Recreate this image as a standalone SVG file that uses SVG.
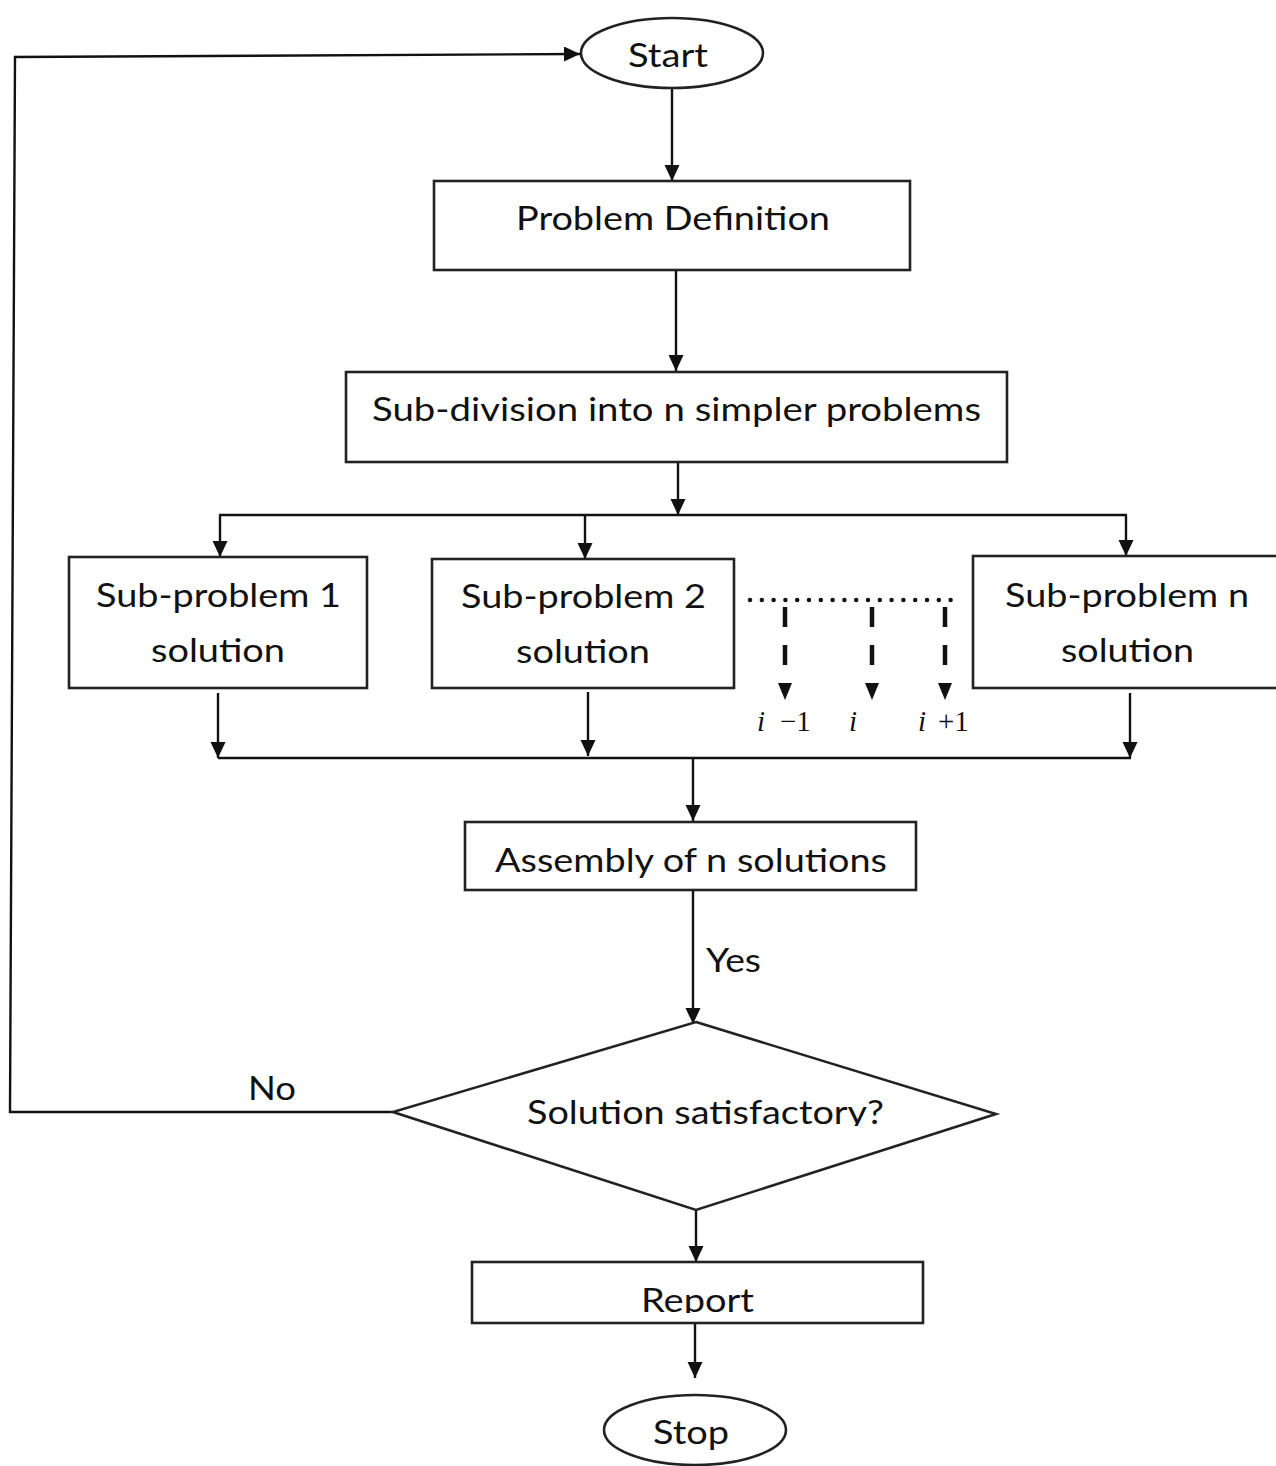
<svg xmlns="http://www.w3.org/2000/svg" width="1276" height="1466" viewBox="0 0 1276 1466">
<style>
.box{fill:#fff;stroke:#222;stroke-width:2.6}
.ln{fill:none;stroke:#111;stroke-width:2.4}
.t{font-family:Lato,"Open Sans","Liberation Sans",sans-serif;font-size:33px;fill:#111;text-anchor:start}
.m{font-family:"Liberation Serif","Times New Roman",serif;font-size:29px;fill:#111}
.dh{fill:#111}
</style>
<defs>
<marker id="ah" markerUnits="userSpaceOnUse" markerWidth="17" markerHeight="16" refX="16" refY="7.5" orient="auto">
<path d="M0,0 L16,7.5 L0,15 Z" fill="#111"/>
</marker>
<clipPath id="c1"><rect x="380" y="1000" width="640" height="126"/></clipPath>
<clipPath id="c2"><rect x="470" y="1262" width="455" height="51"/></clipPath>
</defs>

<g id="connectors">
<line class="ln" x1="672" y1="88" x2="672" y2="181" marker-end="url(#ah)"/>
<line class="ln" x1="676" y1="270" x2="676" y2="371" marker-end="url(#ah)"/>
<line class="ln" x1="678" y1="462" x2="678" y2="515" marker-end="url(#ah)"/>
<line class="ln" x1="219" y1="515" x2="1127" y2="515"/>
<line class="ln" x1="220" y1="515" x2="220" y2="557" marker-end="url(#ah)"/>
<line class="ln" x1="585" y1="515" x2="585" y2="559" marker-end="url(#ah)"/>
<line class="ln" x1="1126" y1="515" x2="1126" y2="556" marker-end="url(#ah)"/>
<line x1="750" y1="600" x2="958" y2="600" stroke="#111" stroke-width="4.5" stroke-linecap="round" stroke-dasharray="0 11.8"/>
<g stroke="#111" stroke-width="4.5" stroke-dasharray="20 18">
<line x1="785" y1="607" x2="785" y2="684"/>
<line x1="872" y1="607" x2="872" y2="684"/>
<line x1="945" y1="607" x2="945" y2="684"/>
</g>
<polygon class="dh" points="778,683 792,683 785,700"/>
<polygon class="dh" points="865,683 879,683 872,700"/>
<polygon class="dh" points="938,683 952,683 945,700"/>
<line class="ln" x1="218" y1="693" x2="218" y2="758" marker-end="url(#ah)"/>
<line class="ln" x1="588" y1="692" x2="588" y2="756" marker-end="url(#ah)"/>
<line class="ln" x1="1130" y1="693" x2="1130" y2="758" marker-end="url(#ah)"/>
<line class="ln" x1="218" y1="758" x2="1131" y2="758"/>
<line class="ln" x1="693" y1="758" x2="693" y2="821" marker-end="url(#ah)"/>
<line class="ln" x1="693" y1="890" x2="693" y2="1024" marker-end="url(#ah)"/>
<polyline class="ln" points="393,1112 10,1112 15,57 580,54" marker-end="url(#ah)"/>
<line class="ln" x1="696" y1="1210" x2="696" y2="1262" marker-end="url(#ah)"/>
<line class="ln" x1="695" y1="1323" x2="695" y2="1378" marker-end="url(#ah)"/>
<text class="t" x="706" y="972" textLength="55" lengthAdjust="spacingAndGlyphs">Yes</text>
<text class="t" x="248" y="1100" textLength="48" lengthAdjust="spacingAndGlyphs">No</text>
<text class="m" x="757" y="731" font-style="italic">i</text>
<text class="m" x="780" y="731">−1</text>
<text class="m" x="849" y="731" font-style="italic">i</text>
<text class="m" x="918" y="731" font-style="italic">i</text>
<text class="m" x="938" y="731">+1</text>
</g>

<g id="start">
<ellipse class="box" cx="672" cy="53" rx="91" ry="35"/>
<text class="t" x="628" y="67" textLength="80" lengthAdjust="spacingAndGlyphs">Start</text>
</g>
<g id="problem-definition">
<rect class="box" x="434" y="181" width="476" height="89"/>
<text class="t" x="516" y="230" textLength="314" lengthAdjust="spacingAndGlyphs">Problem Definition</text>
</g>
<g id="subdivision">
<rect class="box" x="346" y="372" width="661" height="90"/>
<text class="t" x="372" y="421" textLength="609" lengthAdjust="spacingAndGlyphs">Sub-division into n simpler problems</text>
</g>
<g id="sub1">
<rect class="box" x="69" y="557" width="298" height="131"/>
<text class="t" x="96" y="607" textLength="245" lengthAdjust="spacingAndGlyphs">Sub-problem 1</text>
<text class="t" x="151" y="662" textLength="134" lengthAdjust="spacingAndGlyphs">solution</text>
</g>
<g id="sub2">
<rect class="box" x="432" y="559" width="302" height="129"/>
<text class="t" x="461" y="608" textLength="245" lengthAdjust="spacingAndGlyphs">Sub-problem 2</text>
<text class="t" x="516" y="663" textLength="134" lengthAdjust="spacingAndGlyphs">solution</text>
</g>
<g id="subn">
<rect class="box" x="973" y="556" width="310" height="132"/>
<text class="t" x="1005" y="607" textLength="244" lengthAdjust="spacingAndGlyphs">Sub-problem n</text>
<text class="t" x="1061" y="662" textLength="133" lengthAdjust="spacingAndGlyphs">solution</text>
</g>
<g id="assembly">
<rect class="box" x="465" y="822" width="451" height="68"/>
<text class="t" x="495" y="872" textLength="392" lengthAdjust="spacingAndGlyphs">Assembly of n solutions</text>
</g>
<g id="decision">
<polygon class="box" points="696,1022 996,1114 696,1210 393,1112"/>
<text class="t" x="527" y="1124" textLength="357" lengthAdjust="spacingAndGlyphs" clip-path="url(#c1)">Solution satisfactory?</text>
</g>
<g id="report">
<rect class="box" x="472" y="1262" width="451" height="61"/>
<text class="t" x="641" y="1312" textLength="113" lengthAdjust="spacingAndGlyphs" clip-path="url(#c2)">Report</text>
</g>
<g id="stop">
<ellipse class="box" cx="695" cy="1430" rx="91" ry="35"/>
<text class="t" x="653" y="1444" textLength="76" lengthAdjust="spacingAndGlyphs">Stop</text>
</g>
</svg>
